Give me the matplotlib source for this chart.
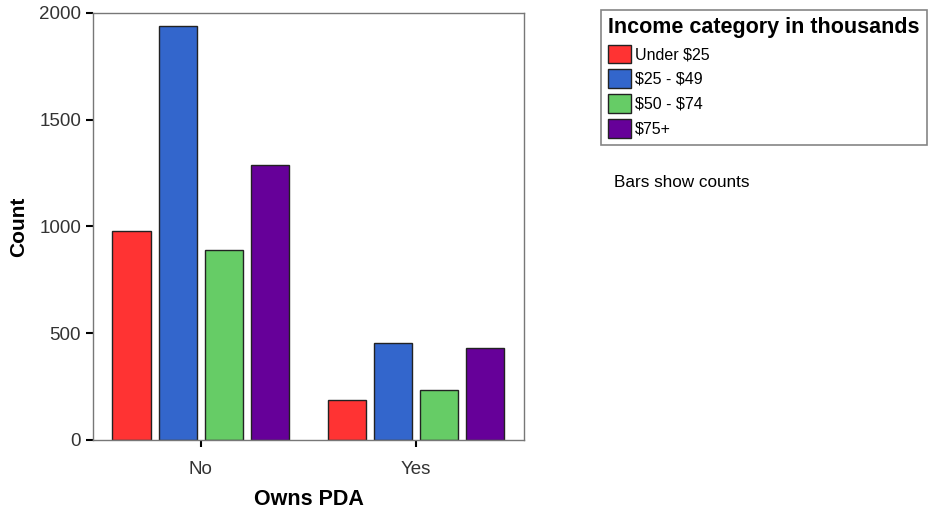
import numpy as np
import matplotlib
matplotlib.use('Agg')
import matplotlib.pyplot as plt

plt.rcParams['font.family'] = ['Liberation Sans', 'DejaVu Sans']
plt.rcParams['text.parse_math'] = False

owns_pda = ['No', 'Yes']
income_cats = ['Under $25', '$25 - $49', '$50 - $74', '$75+']
counts = {
    'Under $25': [979, 187],
    '$25 - $49': [1937, 454],
    '$50 - $74': [890, 234],
    '$75+': [1288, 431],
}
colors = ['#ff3333', '#3366cc', '#66cc66', '#660099']

fig = plt.figure(figsize=(9.38, 5.09), dpi=100)
ax = fig.add_axes([0.0991, 0.1356, 0.4595, 0.8389])

x = np.arange(len(owns_pda))
width = 0.177
step = 0.214
for i, cat in enumerate(income_cats):
    offset = (i - 1.5) * step
    ax.bar(x + offset, counts[cat], width, color=colors[i],
           edgecolor='#222222', linewidth=1.0, label=cat)

ax.set_xlim(-0.5, 1.5)
ax.set_ylim(0, 2000)
ax.set_yticks([0, 500, 1000, 1500, 2000])
ax.set_xticks(x)
ax.set_xticklabels(owns_pda)
ax.tick_params(axis='both', direction='out', length=5, width=1.5,
               labelsize=13.5, colors='black', labelcolor='#333333')
ax.tick_params(axis='x', pad=10)
for s in ax.spines.values():
    s.set_color('#777777')
    s.set_linewidth(1.0)

ax.set_ylabel('Count', fontsize=15, fontweight='bold', labelpad=8)
ax.set_xlabel('Owns PDA', fontsize=15.5, fontweight='bold', labelpad=8)

leg = fig.legend(loc='upper left', bbox_to_anchor=(601 / 938, 1 - 10 / 509),
                 title='Income category in thousands', fontsize=11.5,
                 title_fontproperties={'weight': 'bold', 'size': 15.5},
                 frameon=True, fancybox=False, handlelength=1.4,
                 handleheight=1.4, handletextpad=0.25, labelspacing=0.4,
                 borderpad=0.45, alignment='left', borderaxespad=0)
leg.get_frame().set_edgecolor('#666666')
leg.get_frame().set_linewidth(1.2)

fig.text(614 / 938, 1 - 182 / 509, 'Bars show counts', fontsize=12.3,
         va='center', ha='left')

fig.savefig('out.png', dpi=100)
